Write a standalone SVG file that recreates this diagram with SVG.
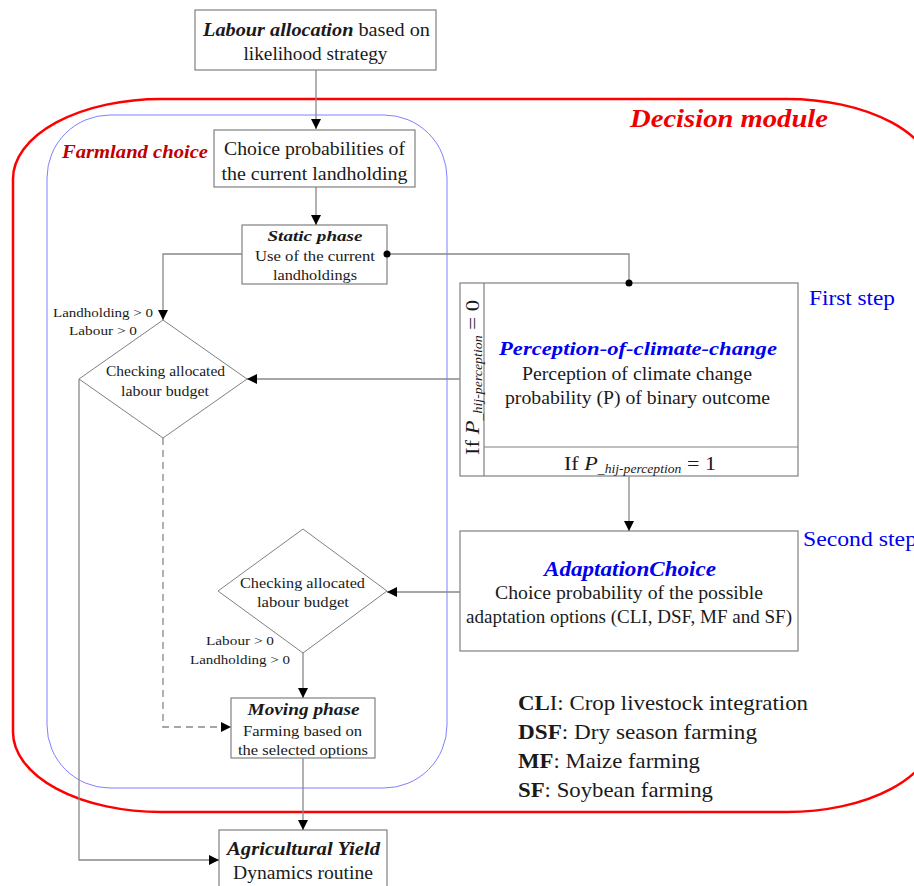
<svg xmlns="http://www.w3.org/2000/svg" width="914" height="886" viewBox="0 0 914 886">
<defs>
<marker id="arr" viewBox="0 0 10 10" refX="10" refY="5" markerWidth="10" markerHeight="10" markerUnits="userSpaceOnUse" orient="auto">
<path d="M0,0 L10,5 L0,10 z" fill="#000"/>
</marker>
<marker id="dot" viewBox="0 0 8 8" refX="4" refY="4" markerWidth="8" markerHeight="8" markerUnits="userSpaceOnUse">
<circle cx="4" cy="4" r="3.5" fill="#000"/>
</marker>
</defs>
<style>
text { font-family: "Liberation Serif", "Times New Roman", serif; fill: #1a1a1a; }
.box { fill: #fff; stroke: #808080; stroke-width: 1.2; }
.dia { fill: #fff; stroke: #808080; stroke-width: 1; }
.c { text-anchor: middle; }
.r { text-anchor: end; }
.bi { font-weight: bold; font-style: italic; }
.conn { fill: none; stroke: #888; stroke-width: 1.3; }
.dash { stroke-dasharray: 7 5; }
.blue { fill: #0000ee; }
</style>

<rect id="decision-module" x="13" y="99" width="922" height="713" rx="148" ry="80" fill="none" stroke="#ff0000" stroke-width="2.5"/>
<rect id="farmland-choice" x="47" y="115" width="400" height="673" rx="63" ry="63" fill="none" stroke="#8080ff" stroke-width="1"/>
<text x="630" y="127" class="bi" font-size="25" style="fill:#ee0000" textLength="198" lengthAdjust="spacingAndGlyphs">Decision module</text>
<text x="62" y="158" class="bi" font-size="19" style="fill:#c00000" textLength="146" lengthAdjust="spacingAndGlyphs">Farmland choice</text>

<g id="labour-allocation">
<rect class="box" x="195" y="10" width="241" height="60"/>
<text x="203" y="36" font-size="19" textLength="227" lengthAdjust="spacingAndGlyphs"><tspan class="bi">Labour allocation</tspan> based on</text>
<text x="315.5" y="60" class="c" font-size="19" textLength="144" lengthAdjust="spacingAndGlyphs">likelihood strategy</text>
</g>

<g id="choice-probabilities">
<rect class="box" x="214" y="130" width="201" height="57"/>
<text x="314.5" y="155" class="c" font-size="19.5" textLength="181" lengthAdjust="spacingAndGlyphs">Choice probabilities of</text>
<text x="314.5" y="180" class="c" font-size="19.5" textLength="186" lengthAdjust="spacingAndGlyphs">the current landholding</text>
</g>

<g id="static-phase">
<rect class="box" x="242" y="225" width="145" height="59"/>
<text x="315" y="241" class="c bi" font-size="15.5" textLength="95" lengthAdjust="spacingAndGlyphs">Static phase</text>
<text x="315" y="261" class="c" font-size="15" textLength="120" lengthAdjust="spacingAndGlyphs">Use of the current</text>
<text x="315" y="280" class="c" font-size="15" textLength="84" lengthAdjust="spacingAndGlyphs">landholdings</text>
</g>

<g id="check-1">
<polygon class="dia" points="163,320 247,379 163,438 79,379"/>
<text x="165.5" y="376" class="c" font-size="15" textLength="119" lengthAdjust="spacingAndGlyphs">Checking allocated</text>
<text x="165" y="396" class="c" font-size="15" textLength="88" lengthAdjust="spacingAndGlyphs">labour budget</text>
<text x="153" y="317" class="r" font-size="13.5" textLength="100" lengthAdjust="spacingAndGlyphs">Landholding &gt; 0</text>
<text x="137" y="335" class="r" font-size="13.5" textLength="68" lengthAdjust="spacingAndGlyphs">Labour &gt; 0</text>
</g>

<g id="perception">
<rect class="box" x="460" y="283" width="338" height="193"/>
<line x1="484" y1="283" x2="484" y2="476" stroke="#808080" stroke-width="1.2"/>
<line x1="484" y1="447" x2="798" y2="447" stroke="#808080" stroke-width="1.2"/>
<text transform="translate(479,377.5) rotate(-90)" class="c" font-size="19.5" textLength="155" lengthAdjust="spacingAndGlyphs">If <tspan font-style="italic">P</tspan><tspan font-style="italic" font-size="12" dy="3">_hij-perception</tspan><tspan dy="-3"> = 0</tspan></text>
<text x="638" y="355" class="c bi blue" font-size="19.5" textLength="278" lengthAdjust="spacingAndGlyphs">Perception-of-climate-change</text>
<text x="637" y="380" class="c" font-size="18.5" textLength="230" lengthAdjust="spacingAndGlyphs">Perception of climate change</text>
<text x="637.5" y="404" class="c" font-size="18.5" textLength="265" lengthAdjust="spacingAndGlyphs">probability (P) of binary outcome</text>
<text x="640" y="470" class="c" font-size="19.5" textLength="152" lengthAdjust="spacingAndGlyphs">If <tspan font-style="italic">P</tspan><tspan font-style="italic" font-size="12" dy="3">_hij-perception</tspan><tspan dy="-3"> = 1</tspan></text>
<text x="809" y="305" class="blue" font-size="20" textLength="86" lengthAdjust="spacingAndGlyphs">First step</text>
</g>

<g id="adaptation">
<rect class="box" x="460" y="531" width="338" height="120"/>
<text x="630" y="576" class="c bi blue" font-size="20" textLength="172" lengthAdjust="spacingAndGlyphs">AdaptationChoice</text>
<text x="629" y="599" class="c" font-size="18.5" textLength="268" lengthAdjust="spacingAndGlyphs">Choice probability of the possible</text>
<text x="629" y="623" class="c" font-size="18.5" textLength="326" lengthAdjust="spacingAndGlyphs">adaptation options (CLI, DSF, MF and SF)</text>
<text x="803" y="546" class="blue" font-size="20" textLength="114" lengthAdjust="spacingAndGlyphs">Second step</text>
</g>

<g id="check-2">
<polygon class="dia" points="303,529 387,591 303,653 218,591"/>
<text x="302.5" y="588" class="c" font-size="15" textLength="125" lengthAdjust="spacingAndGlyphs">Checking allocated</text>
<text x="303" y="607" class="c" font-size="15" textLength="92" lengthAdjust="spacingAndGlyphs">labour budget</text>
<text x="274" y="645" class="r" font-size="13.5" textLength="68" lengthAdjust="spacingAndGlyphs">Labour &gt; 0</text>
<text x="290" y="664" class="r" font-size="13.5" textLength="100" lengthAdjust="spacingAndGlyphs">Landholding &gt; 0</text>
</g>

<g id="moving-phase">
<rect class="box" x="231" y="698" width="144" height="60"/>
<text x="303.5" y="715" class="c bi" font-size="16" textLength="112" lengthAdjust="spacingAndGlyphs">Moving phase</text>
<text x="302.5" y="736" class="c" font-size="15.5" textLength="119" lengthAdjust="spacingAndGlyphs">Farming based on</text>
<text x="303" y="755" class="c" font-size="15.5" textLength="130" lengthAdjust="spacingAndGlyphs">the selected options</text>
</g>

<g id="agricultural-yield">
<rect class="box" x="219" y="830" width="168" height="70"/>
<text x="303.5" y="855" class="c bi" font-size="18.5" textLength="153" lengthAdjust="spacingAndGlyphs">Agricultural Yield</text>
<text x="303" y="879" class="c" font-size="18.5" textLength="140" lengthAdjust="spacingAndGlyphs">Dynamics routine</text>
</g>

<g id="legend" font-size="21">
<text x="518" y="710" textLength="290" lengthAdjust="spacingAndGlyphs"><tspan font-weight="bold">CL</tspan>I: Crop livestock integration</text>
<text x="518" y="739" textLength="239" lengthAdjust="spacingAndGlyphs"><tspan font-weight="bold">DSF</tspan>: Dry season farming</text>
<text x="518" y="768" textLength="182" lengthAdjust="spacingAndGlyphs"><tspan font-weight="bold">MF</tspan>: Maize farming</text>
<text x="518" y="797" textLength="195" lengthAdjust="spacingAndGlyphs"><tspan font-weight="bold">SF</tspan>: Soybean farming</text>
</g>

<g id="connectors">
<path class="conn" d="M316,70 V129" marker-end="url(#arr)"/>
<path class="conn" d="M316,187 V225" marker-end="url(#arr)"/>
<path class="conn" d="M242,254 H163 V320" marker-end="url(#arr)"/>
<path class="conn" d="M387,254 H629 V283" marker-start="url(#dot)" marker-end="url(#dot)"/>
<path class="conn" d="M460,379 H247" marker-end="url(#arr)"/>
<path class="conn" d="M629,476 V531" marker-end="url(#arr)"/>
<path class="conn" d="M460,592 H387" marker-end="url(#arr)"/>
<path class="conn" d="M303,653 V698" marker-end="url(#arr)"/>
<path class="conn dash" d="M163,438 V727 H231" marker-end="url(#arr)"/>
<path class="conn" d="M79,379 V860 H219" marker-end="url(#arr)"/>
<path class="conn" d="M303,758 V830" marker-end="url(#arr)"/>
</g>
</svg>
